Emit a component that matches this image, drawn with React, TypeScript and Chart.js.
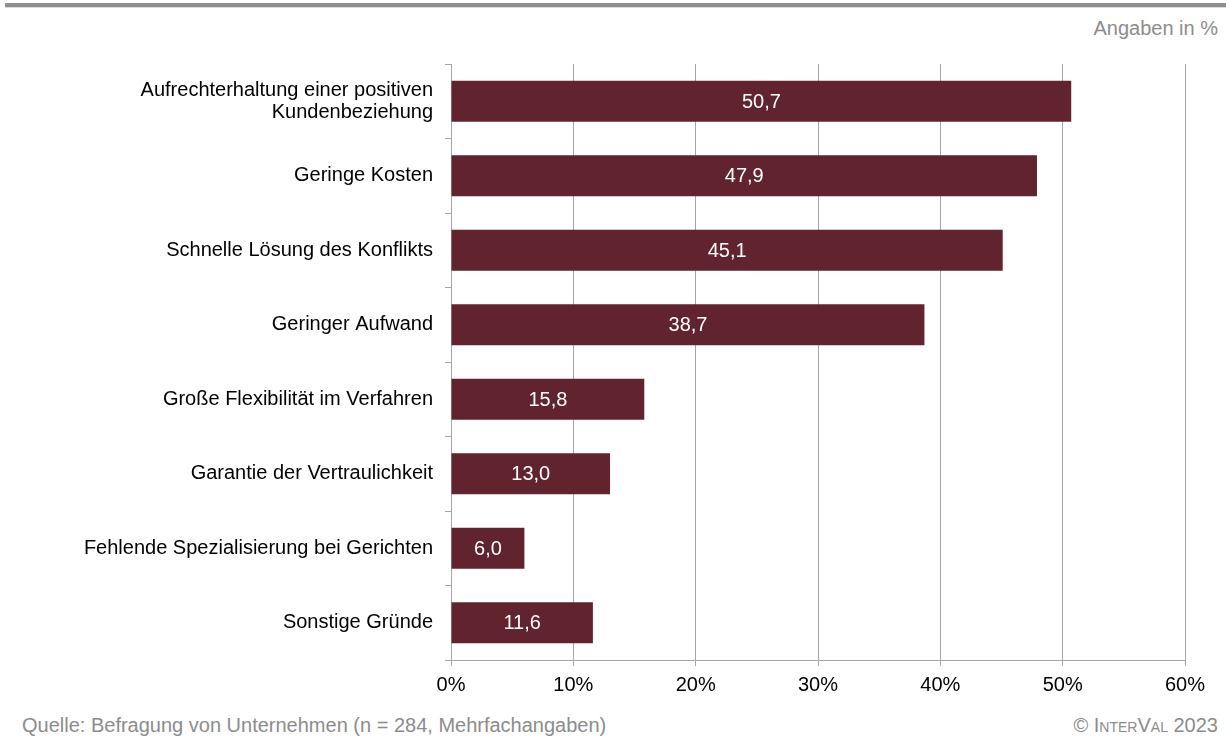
import React, { useEffect, useRef } from "react";
import { Chart, registerables } from "chart.js";

Chart.register(...registerables);

const categories: (string | string[])[] = [
  ["Aufrechterhaltung einer positiven", "Kundenbeziehung"],
  "Geringe Kosten",
  "Schnelle Lösung des Konflikts",
  "Geringer Aufwand",
  "Große Flexibilität im Verfahren",
  "Garantie der Vertraulichkeit",
  "Fehlende Spezialisierung bei Gerichten",
  "Sonstige Gründe",
];
const values: number[] = [50.7, 47.9, 45.1, 38.7, 15.8, 13.0, 6.0, 11.6];
const xTicks: number[] = [0, 10, 20, 30, 40, 50, 60];

const FONT = "'Liberation Sans', Arial, sans-serif";
const BAR = "#61242f";
const GRID = "#a6a6a6";
const GREY_TEXT = "#8c8c8c";

const labelPlugin = {
  id: "barLabels",
  afterDatasetsDraw(chart: any) {
    const ctx = chart.ctx;
    const meta = chart.getDatasetMeta(0);
    ctx.save();
    ctx.fillStyle = "#ffffff";
    ctx.font = `20px ${FONT}`;
    ctx.textAlign = "center";
    ctx.textBaseline = "middle";
    meta.data.forEach((el: any, i: number) => {
      const v = values[i];
      const cx = (el.x + el.base) / 2;
      ctx.fillText(v.toFixed(1).replace(".", ","), cx, el.y + 1);
    });
    ctx.restore();
  },
};

export default function App() {
  const ref = useRef<HTMLCanvasElement>(null);
  useEffect(() => {
    if (!ref.current) return;
    const chart = new Chart(ref.current, {
      type: "bar",
      data: {
        labels: categories as any,
        datasets: [
          {
            data: values,
            backgroundColor: BAR,
            barPercentage: 0.55,
            categoryPercentage: 1,
          },
        ],
      },
      options: {
        indexAxis: "y",
        animation: false,
        responsive: false,
        maintainAspectRatio: false,
        layout: { padding: { top: 64, right: 41, left: 0, bottom: 0 } },
        plugins: {
          legend: { display: false },
          tooltip: { enabled: false },
        },
        scales: {
          x: {
            min: 0,
            max: 60,
            afterBuildTicks: (scale: any) => {
              scale.ticks = xTicks.map((v) => ({ value: v }));
            },
            afterFit: (scale: any) => {
              scale.height = 50;
            },
            ticks: {
              color: "#000000",
              font: { family: FONT, size: 20 },
              padding: 7,
              callback: (v: any) => `${v}%`,
            },
            grid: {
              color: GRID,
              lineWidth: 1,
              tickLength: 6,
              drawTicks: true,
            },
            border: { color: GRID },
          },
          y: {
            afterFit: (scale: any) => {
              scale.width = 451;
            },
            ticks: {
              color: "#000000",
              font: { family: FONT, size: 20, lineHeight: 1.1 },
              padding: 12,
              crossAlign: "near",
            },
            grid: {
              display: true,
              offset: true,
              drawOnChartArea: false,
              drawTicks: true,
              tickLength: 6,
              color: GRID,
            },
            border: { color: GRID },
          },
        },
      },
      plugins: [labelPlugin],
    });
    return () => chart.destroy();
  }, []);

  return (
    <div
      style={{
        position: "absolute",
        left: 0,
        top: 0,
        width: 1226,
        height: 740,
        background: "#ffffff",
        fontFamily: FONT,
        overflow: "hidden",
      }}
    >
      <div style={{ position: "absolute", left: 5, right: 0, top: 3, height: 4, background: "#8f8f8f" }} />
      <div style={{ position: "absolute", left: 5, right: 0, top: 7, height: 1, background: "#dcdcdc" }} />
      <div
        style={{
          position: "absolute",
          right: 8,
          top: 16,
          fontSize: 20,
          lineHeight: "24px",
          color: GREY_TEXT,
        }}
      >
        Angaben in %
      </div>
      <canvas
        ref={ref}
        width={1226}
        height={710}
        style={{ position: "absolute", left: 0, top: 0, width: 1226, height: 710 }}
      />
      <div
        style={{
          position: "absolute",
          left: 22,
          top: 713,
          fontSize: 20,
          lineHeight: "24px",
          color: GREY_TEXT,
          whiteSpace: "nowrap",
        }}
      >
        Quelle: Befragung von Unternehmen (n = 284, Mehrfachangaben)
      </div>
      <div
        style={{
          position: "absolute",
          right: 8,
          top: 713,
          fontSize: 20,
          lineHeight: "24px",
          color: GREY_TEXT,
          fontVariant: "small-caps",
          whiteSpace: "nowrap",
        }}
      >
        © InterVal 2023
      </div>
    </div>
  );
}
